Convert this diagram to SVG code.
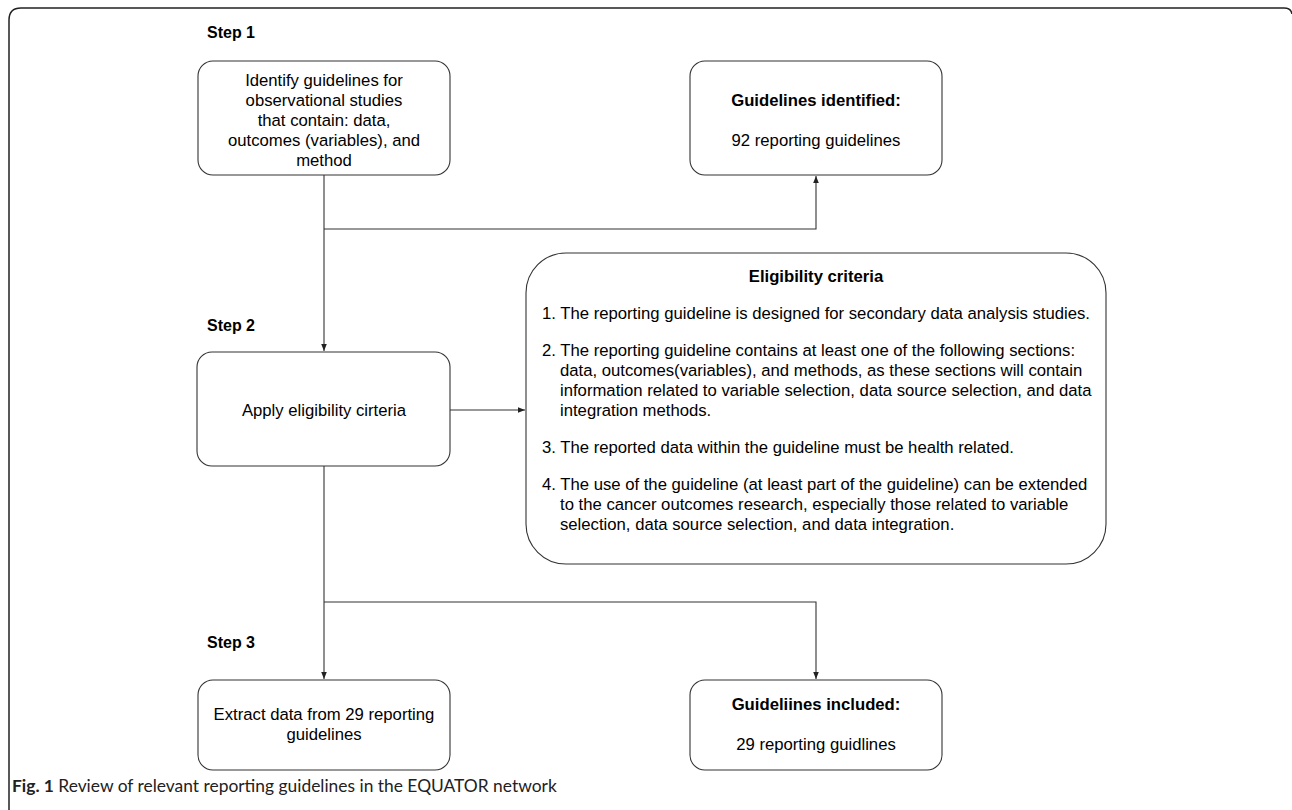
<svg xmlns="http://www.w3.org/2000/svg" width="1292" height="810" viewBox="0 0 1292 810">
<defs>
<style>
.box{fill:#fff;stroke:#333;stroke-width:1.1}
.t{font-family:"Liberation Sans",Arial,sans-serif;font-size:16.7px;fill:#000}
.c{text-anchor:middle}
.b{font-weight:bold}
.step{font-family:"Liberation Sans",Arial,sans-serif;font-size:16px;font-weight:bold;fill:#000}
.ln{fill:none;stroke:#333;stroke-width:1.1}
.cap{font-family:Lato,"Open Sans",sans-serif;font-size:17.4px;fill:#222}
</style>
<marker id="ah" viewBox="0 0 10 10" refX="10" refY="5" markerWidth="7" markerHeight="7" markerUnits="userSpaceOnUse" orient="auto">
<path d="M0,1 L10,5 L0,9 Z" fill="#222"/>
</marker>
</defs>
<rect width="1292" height="810" fill="#fff"/>
<path d="M9,810 L9,20 Q9,8 21,8 L1284,8 Q1291,8 1292,14" fill="none" stroke="#222" stroke-width="1.5"/>

<text class="step" x="207" y="38">Step 1</text>
<text class="step" x="207" y="331">Step 2</text>
<text class="step" x="207" y="648">Step 3</text>

<g id="connectors">
<path class="ln" d="M324,175 L324,351" marker-end="url(#ah)"/>
<path class="ln" d="M324,229 L816,229 L816,176" marker-end="url(#ah)"/>
<path class="ln" d="M450,410 L525,410" marker-end="url(#ah)"/>
<path class="ln" d="M324,466 L324,679" marker-end="url(#ah)"/>
<path class="ln" d="M324,602 L816,602 L816,679" marker-end="url(#ah)"/>
</g>

<g id="n-identify">
<rect class="box" x="198" y="61" width="252" height="114" rx="15"/>
<text class="t c" x="324" y="86">Identify guidelines for</text>
<text class="t c" x="324" y="106">observational studies</text>
<text class="t c" x="324" y="126">that contain: data,</text>
<text class="t c" x="324" y="146">outcomes (variables), and</text>
<text class="t c" x="324" y="166">method</text>
</g>

<g id="n-identified">
<rect class="box" x="690" y="61" width="252" height="114" rx="15"/>
<text class="t c b" x="816" y="106">Guidelines identified:</text>
<text class="t c" x="816" y="146">92 reporting guidelines</text>
</g>

<g id="n-apply">
<rect class="box" x="197" y="352" width="253" height="114" rx="15"/>
<text class="t c" x="324" y="416">Apply eligibility cirteria</text>
</g>

<g id="n-criteria">
<rect class="box" x="526" y="253" width="580" height="311" rx="40"/>
<text class="t c b" x="816" y="282">Eligibility criteria</text>
<text class="t" x="542" y="319">1. The reporting guideline is designed for secondary data analysis studies.</text>
<text class="t" x="542" y="356">2. The reporting guideline contains at least one of the following sections:</text>
<text class="t" x="560" y="376">data, outcomes(variables), and methods, as these sections will contain</text>
<text class="t" x="560" y="396">information related to variable selection, data source selection, and data</text>
<text class="t" x="560" y="416">integration methods.</text>
<text class="t" x="542" y="453">3. The reported data within the guideline must be health related.</text>
<text class="t" x="542" y="490">4. The use of the guideline (at least part of the guideline) can be extended</text>
<text class="t" x="560" y="510">to the cancer outcomes research, especially those related to variable</text>
<text class="t" x="560" y="530">selection, data source selection, and data integration.</text>
</g>

<g id="n-extract">
<rect class="box" x="198" y="680" width="252" height="90" rx="15"/>
<text class="t c" x="324" y="720">Extract data from 29 reporting</text>
<text class="t c" x="324" y="740">guidelines</text>
</g>

<g id="n-included">
<rect class="box" x="690" y="680" width="252" height="90" rx="15"/>
<text class="t c b" x="816" y="710">Guideliines included:</text>
<text class="t c" x="816" y="750">29 reporting guidlines</text>
</g>

<text class="cap" x="12" y="792"><tspan font-weight="bold">Fig. 1</tspan> Review of relevant reporting guidelines in the EQUATOR network</text>
</svg>
